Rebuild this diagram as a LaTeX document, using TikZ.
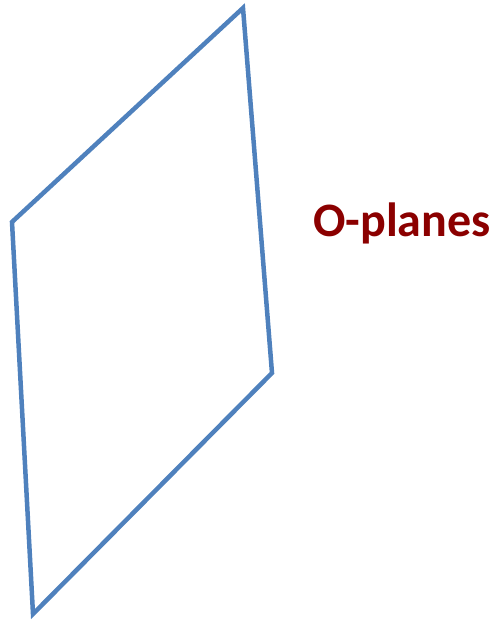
\documentclass[tikz,border=0pt]{standalone}
\usepackage{fontspec}
\newfontfamily\calib{Carlito}
\definecolor{edgeblue}{HTML}{4F81BD}
\definecolor{labelred}{HTML}{8B0000}
\tikzset{
  planeedge/.style={draw=edgeblue, line width=4.5pt, line join=miter},
  labeltext/.style={text=labelred, font=\calib\bfseries\fontsize{48}{50}\selectfont, inner sep=0pt, anchor=base west}
}
\begin{document}
\begin{tikzpicture}[x=1pt,y=-1pt]
\useasboundingbox (0,0) rectangle (496,621);
\coordinate (t) at (243,8);
\coordinate (r) at (272,373);
\coordinate (b) at (33,614);
\coordinate (l) at (12,222);
\draw[planeedge] (t) -- (r) -- (b) -- (l) -- cycle;
\node[labeltext] (lbl) at (313,236) {O-planes};
\end{tikzpicture}
\end{document}
